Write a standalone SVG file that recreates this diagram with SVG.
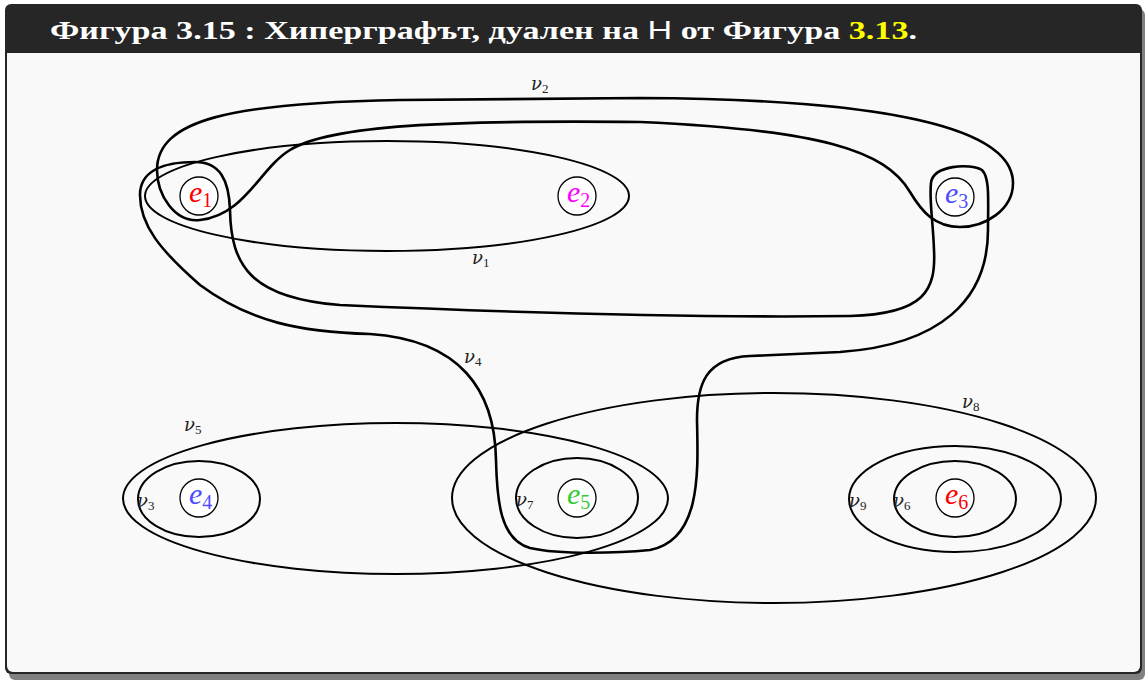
<svg xmlns="http://www.w3.org/2000/svg" width="1145" height="681" viewBox="0 0 1145 681">
<style>
.he{fill:none;stroke:#000;stroke-width:2}
.loop{fill:none;stroke:#000;stroke-width:2.6;stroke-linejoin:round}
.nc{fill:#fff;stroke:#000;stroke-width:1.3}
.e{font-family:"Liberation Serif",serif;font-style:italic;font-size:30px}
.es{font-style:normal;font-size:20px}
.v{font-family:"DejaVu Serif",serif;font-style:italic;font-size:18px;fill:#222}
.vs{font-family:"Liberation Serif",serif;font-style:normal;font-size:13px}
.title{font-family:"Liberation Serif",serif;font-weight:bold;font-size:25px;fill:#fff}
</style>
<g id="frame">
<rect x="9" y="9" width="1136" height="671" rx="6" fill="#808080"/>
<rect x="5" y="4" width="1137" height="670" rx="6" fill="#262626"/>
<path d="M7,53 H1140 V666 a6,6 0 0 1 -6,6 H13 a6,6 0 0 1 -6,-6 Z" fill="#f9f9f9"/>
<text class="title" x="50" y="39" textLength="867" lengthAdjust="spacingAndGlyphs">Фигура 3.15 : Хиперграфът, дуален на <tspan font-family="Liberation Sans, sans-serif" font-weight="normal">H</tspan> от Фигура <tspan fill="#ffff00">3.13</tspan>.</text>
</g>
<g id="hyperedges">
<g id="v1"><ellipse class="he" cx="387" cy="196" rx="242" ry="55"/><text class="v" x="472" y="264">ν<tspan class="vs" dy="3">1</tspan></text></g>
<g id="v2"><path class="loop" d="M640,98 C850,99 1013,120 1013,183 C1013,210 985,227 960,227 C935,227 922,212 910,192 C885,150 820,130 640,122 C450,120 330,125 290,150 C260,168 245,215 200,220 C175,223 157,195 157,170 C157,120 230,103 400,100 C480,99 560,98 640,98 Z"/><text class="v" x="531" y="90">ν<tspan class="vs" dy="3">2</tspan></text></g>
<g id="v4"><path class="loop" d="M195,162 C220,162 229,180 230,210 C231,265 250,298 340,305 C500,312 700,318 850,316 C925,314 936,290 934,250 C933,220 929,200 931,183 C933,165 970,163 982,170 C990,178 988,200 988,230 C988,300 940,345 840,352 L750,356 C705,358 697,385 697,420 C698,470 702,540 650,550 C620,553 560,555 530,548 C500,540 497,500 496,460 C495,390 460,340 370,334 C300,332 250,322 200,285 C160,250 140,225 140,195 C140,170 165,162 195,162 Z"/><text class="v" x="464" y="363">ν<tspan class="vs" dy="3">4</tspan></text></g>
<g id="v5"><ellipse class="he" cx="395.5" cy="498.5" rx="272.5" ry="75.5"/><text class="v" x="184" y="431">ν<tspan class="vs" dy="3">5</tspan></text></g>
<g id="v3"><ellipse class="he" cx="199" cy="499" rx="61" ry="38"/><text class="v" x="137" y="507">ν<tspan class="vs" dy="3">3</tspan></text></g>
<g id="v8"><ellipse class="he" cx="774" cy="498" rx="322" ry="105"/><text class="v" x="962" y="408">ν<tspan class="vs" dy="3">8</tspan></text></g>
<g id="v7"><ellipse class="he" cx="577" cy="498" rx="61" ry="40"/><text class="v" x="516" y="506">ν<tspan class="vs" dy="3">7</tspan></text></g>
<g id="v9"><ellipse class="he" cx="955" cy="499" rx="106" ry="53"/><text class="v" x="849" y="507">ν<tspan class="vs" dy="3">9</tspan></text></g>
<g id="v6"><ellipse class="he" cx="955" cy="499" rx="61" ry="38"/><text class="v" x="893" y="507">ν<tspan class="vs" dy="3">6</tspan></text></g>
</g>
<g id="e1"><circle class="nc" cx="199" cy="196" r="19"/><text class="e" x="189" y="202" fill="#ff0000">e<tspan class="es" dy="5">1</tspan></text></g>
<g id="e2"><circle class="nc" cx="577" cy="196" r="19"/><text class="e" x="567" y="202" fill="#ff00ff">e<tspan class="es" dy="5">2</tspan></text></g>
<g id="e3"><circle class="nc" cx="955" cy="197" r="19"/><text class="e" x="945" y="203" fill="#4d4dff">e<tspan class="es" dy="5">3</tspan></text></g>
<g id="e4"><circle class="nc" cx="199" cy="498" r="19"/><text class="e" x="189" y="504" fill="#4d4dff">e<tspan class="es" dy="5">4</tspan></text></g>
<g id="e5"><circle class="nc" cx="577" cy="498" r="19"/><text class="e" x="567" y="504" fill="#33cc33">e<tspan class="es" dy="5">5</tspan></text></g>
<g id="e6"><circle class="nc" cx="955" cy="498" r="19"/><text class="e" x="945" y="504" fill="#ff0000">e<tspan class="es" dy="5">6</tspan></text></g>
</svg>
